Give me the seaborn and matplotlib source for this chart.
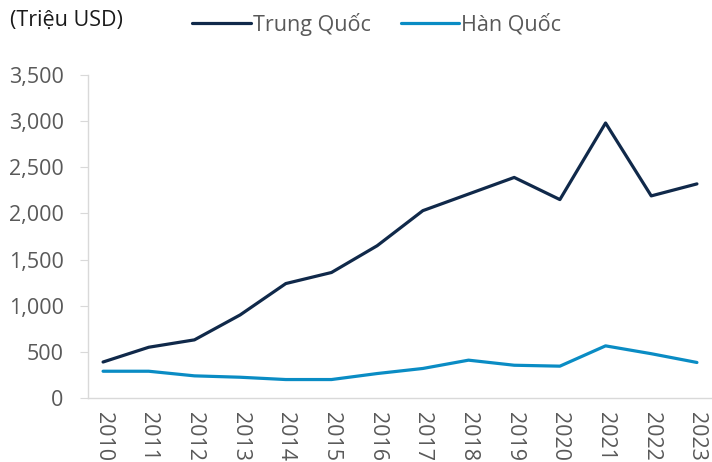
import pandas as pd
import matplotlib.pyplot as plt
import seaborn as sns
from matplotlib.ticker import FuncFormatter
from matplotlib.lines import Line2D

years = [2010, 2011, 2012, 2013, 2014, 2015, 2016, 2017, 2018, 2019, 2020, 2021, 2022, 2023]
trung_quoc = [390, 550, 630, 900, 1240, 1360, 1650, 2030, 2210, 2390, 2150, 2980, 2190, 2320]
han_quoc = [290, 290, 240, 225, 200, 200, 265, 320, 410, 355, 345, 565, 480, 385]
series_names = ['Trung Quốc', 'Hàn Quốc']
colors = ['#10294a', '#0a8cc4']

df = pd.DataFrame({'x': list(range(len(years))) * 2,
                   'value': trung_quoc + han_quoc,
                   'series': [series_names[0]] * len(years) + [series_names[1]] * len(years)})

sns.set_style('white')
plt.rcParams['font.family'] = ['Open Sans', 'DejaVu Sans']
text_color = '#595959'
fs = 15.5

fig = plt.figure(figsize=(7.12, 4.62), dpi=100)
ax = fig.add_axes([88 / 712, 64 / 462, 624 / 712, 323 / 462])

sns.lineplot(data=df, x='x', y='value', hue='series', palette=colors,
             linewidth=2.3, ax=ax, legend=False)

ax.set_xlim(-0.33, 13.33)
ax.set_ylim(0, 3500)
ax.set_yticks(range(0, 3501, 500))
ax.yaxis.set_major_formatter(FuncFormatter(lambda v, p: f'{int(v):,}'))
ax.set_xticks(range(len(years)))
ax.set_xticklabels([str(y) for y in years], rotation=-90)
ax.set_xlabel('')
ax.set_ylabel('')

for s in ['top', 'right']:
    ax.spines[s].set_visible(False)
for s in ['left', 'bottom']:
    ax.spines[s].set_color('#d9d9d9')
    ax.spines[s].set_linewidth(1)
ax.tick_params(axis='y', length=5.5, color='#d9d9d9', labelsize=fs, labelcolor=text_color, pad=12, left=True)
ax.tick_params(axis='x', length=0, labelsize=fs, labelcolor=text_color, pad=10)

fig.text(10 / 712, 1 - 20 / 462, '(Triệu USD)', fontsize=fs, color='#1a1a1a', va='center')

handles = [Line2D([], [], color=c, lw=2.3) for c in colors]
fig.legend(handles, series_names, loc='center left', bbox_to_anchor=(173 / 712, 1 - 24 / 462),
           ncol=2, frameon=False, fontsize=fs, handlelength=2.7, handletextpad=0.1,
           columnspacing=1.4, labelcolor=text_color)

fig.savefig('out.png', dpi=100)
